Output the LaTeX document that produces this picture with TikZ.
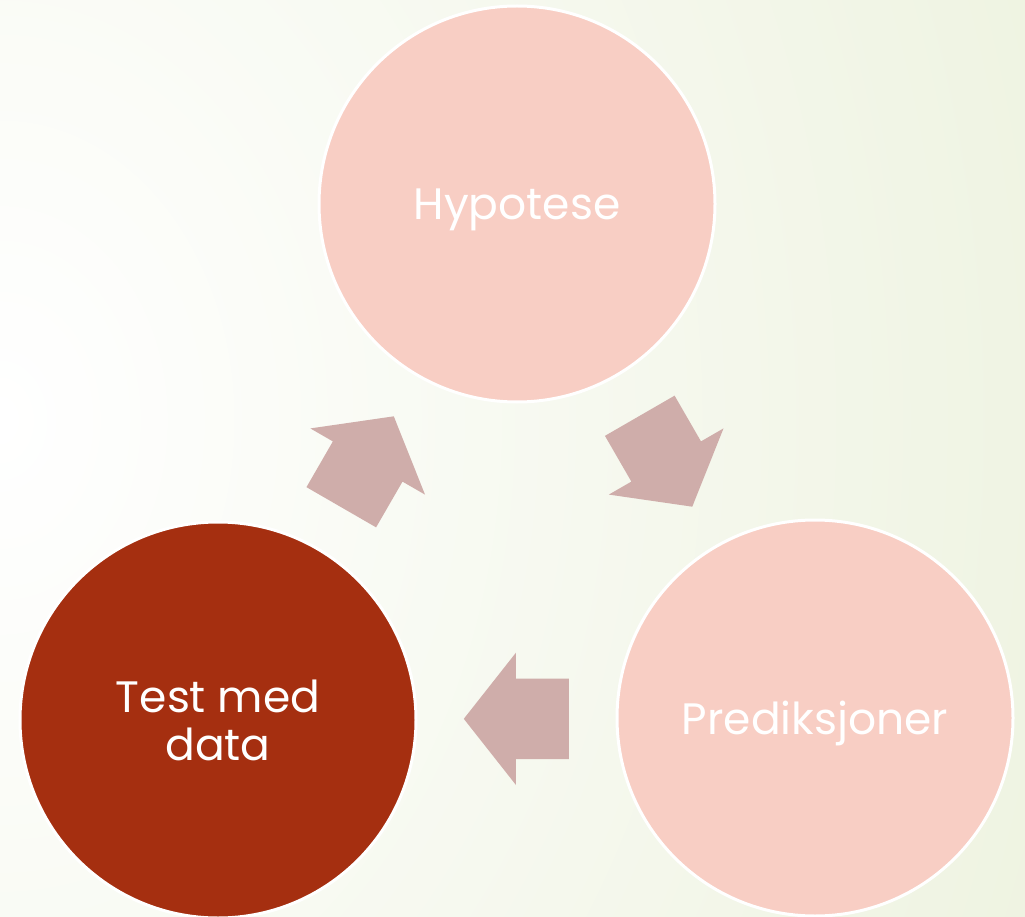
\documentclass[tikz,border=0pt]{standalone}
\usepackage{fontspec}
\setmainfont{Poppins}
\usepackage{tikz}
\usetikzlibrary{calc,shapes.arrows}
\definecolor{CycleRose}{HTML}{F8CEC4}
\definecolor{CycleRust}{HTML}{A52F10}
\definecolor{CycleMauve}{HTML}{CFADAA}
\definecolor{CycleSage}{HTML}{DCE6C0}
\tikzset{
  stage/.style={circle,draw=white,line width=3pt,fill=CycleRose,minimum size=396pt,inner sep=0pt,align=center,text=white,font=\fontsize{44}{48}\selectfont,text height=32pt,text depth=0pt},
  current/.style={stage,fill=CycleRust,text height=,text depth=},
  turn/.style={single arrow,fill=CycleMauve,draw=none,anchor=tail,inner xsep=0pt,inner ysep=40pt,minimum height=105pt,minimum width=132pt,single arrow head extend=26pt,single arrow tip angle=103.5}
}

\begin{document}
\begin{tikzpicture}[x=1pt,y=-1pt]
  \useasboundingbox (0,0) rectangle (1025,917);
  \begin{scope}
    \clip (0,0) rectangle (1025,917);
    \shade[inner color=white,outer color=CycleSage] (0,420) ellipse (2340 and 3000);
  \end{scope}
  \node[stage] (hyp) at (517,204) {Hypotese};
  \node[stage] (pred) at (815,718) {Prediksjoner};
  \node[current] (test) at (218,720) {Test med\\data};
  % arrows sit half way between the circles, tail first
  \node[turn,rotate=-60] (hyp2pred) at ($(hyp)!.5!(pred)!52.5pt!(hyp)$) {};
  \node[turn,rotate=180] (pred2test) at ($(pred)!.5!(test)!52.5pt!(pred)$) {};
  \node[turn,rotate=60] (test2hyp) at ($(test)!.5!(hyp)!52.5pt!(test)$) {};
\end{tikzpicture}
\end{document}
